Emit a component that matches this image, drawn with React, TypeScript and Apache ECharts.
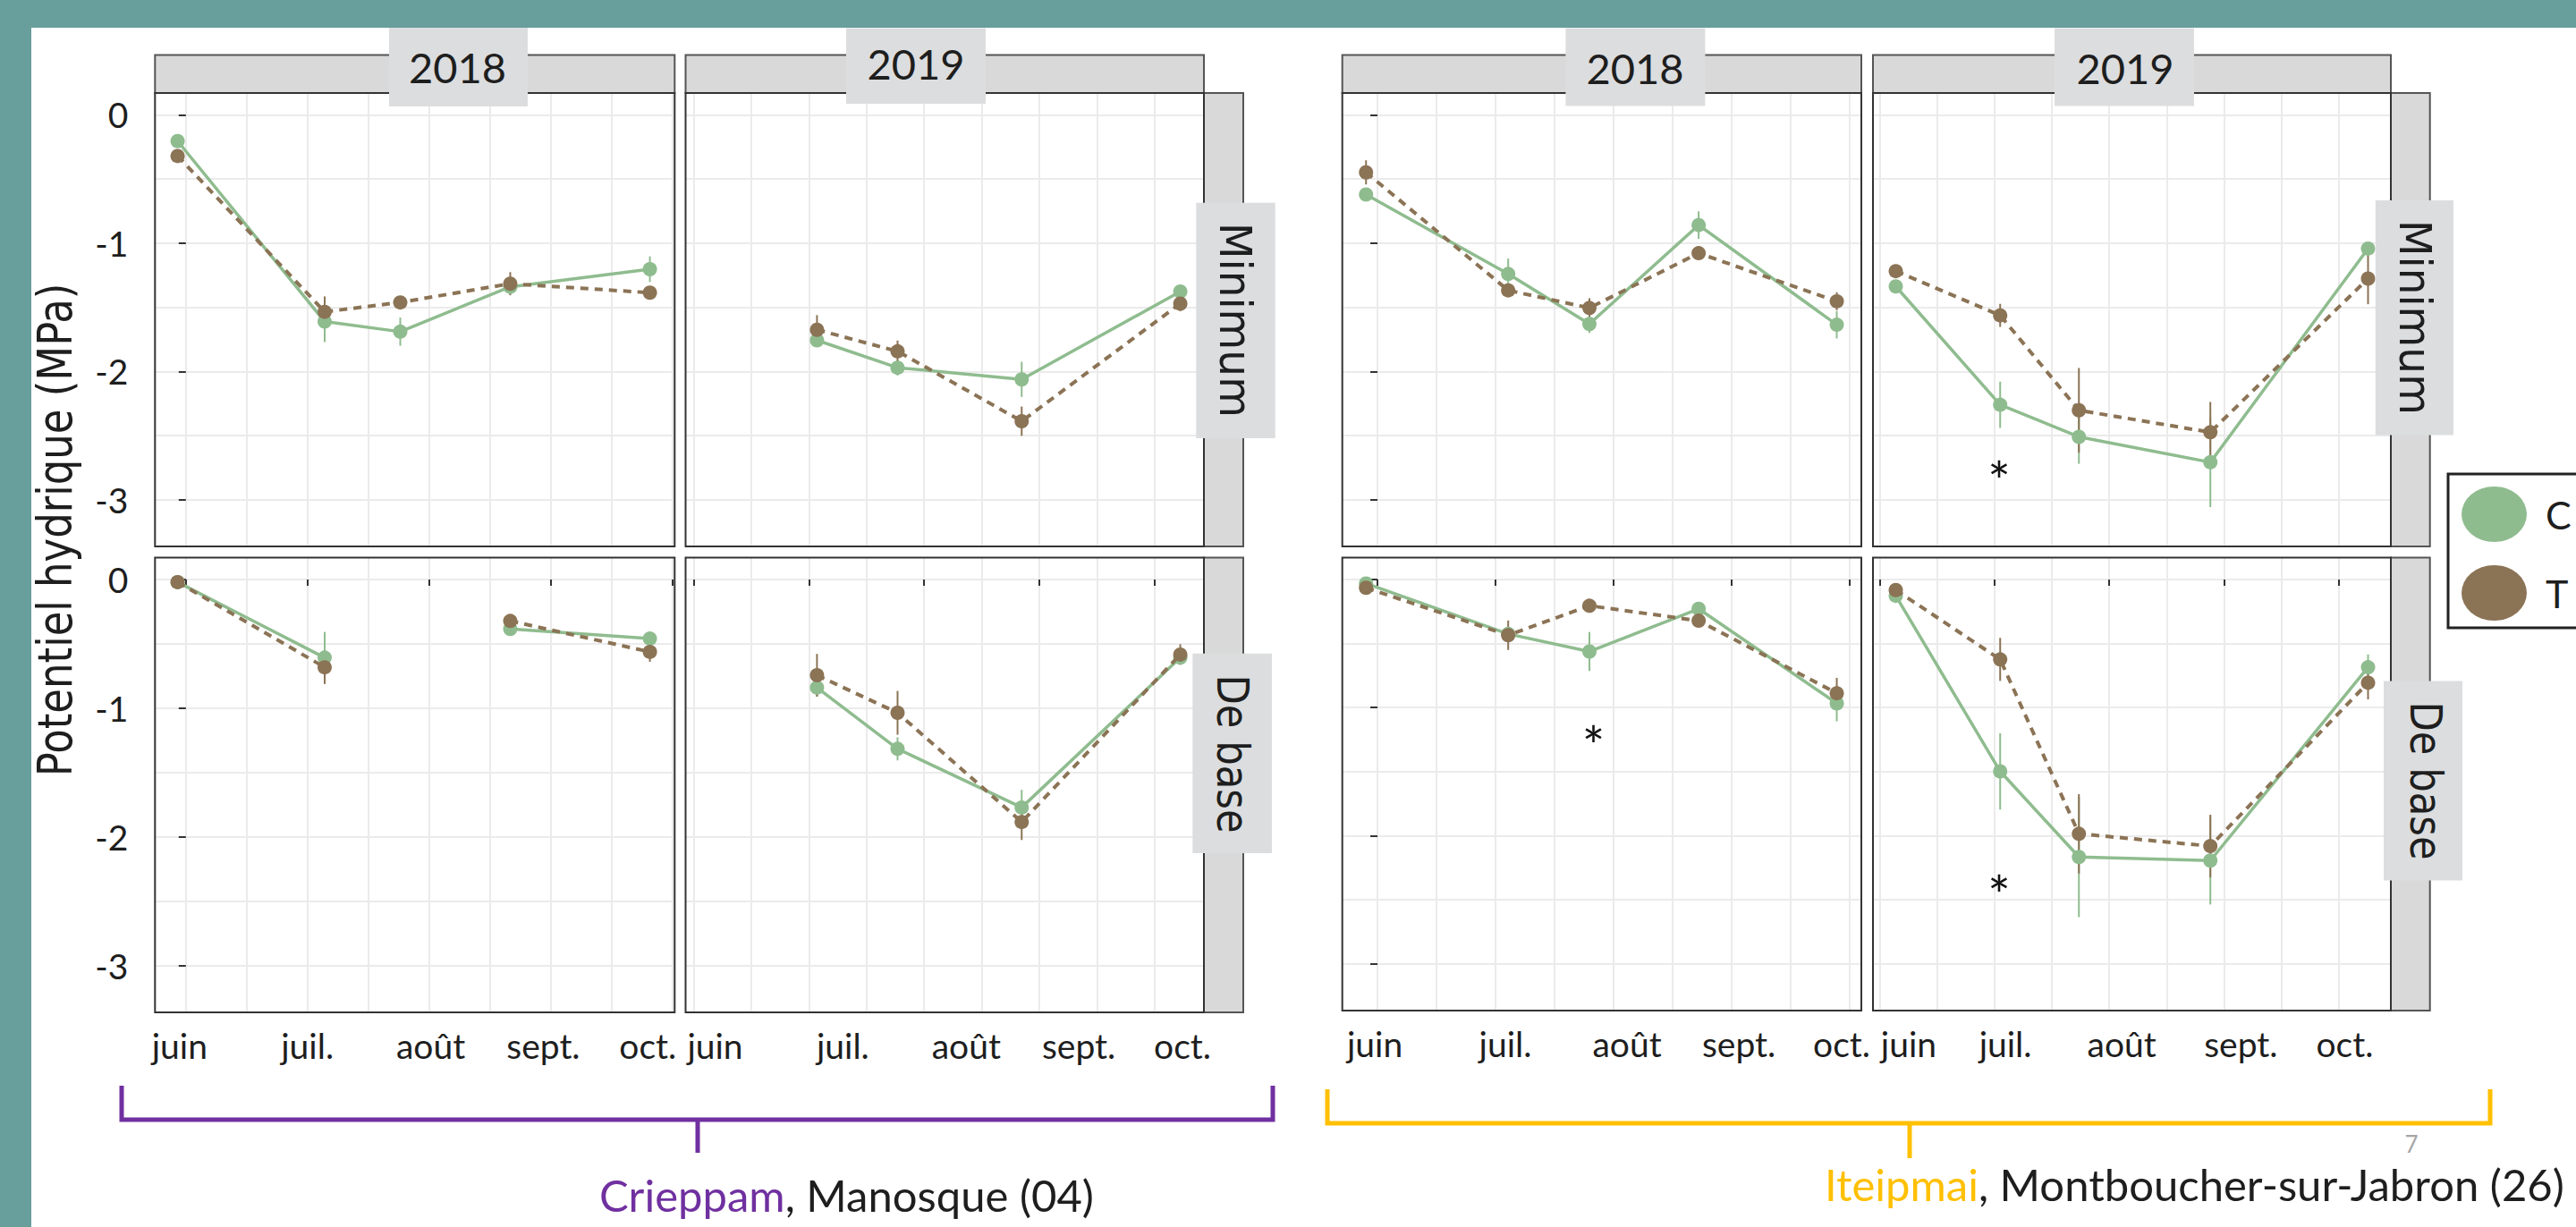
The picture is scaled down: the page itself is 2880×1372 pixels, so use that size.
import React, { useEffect, useRef } from 'react';
import * as echarts from 'echarts';

// ---------------- data ----------------
const monthLabels = ['juin', 'juil.', 'août', 'sept.', 'oct.'];
const monthTicks = [0, 1, 2, 3, 4];
const yTickValues = [-3, -2, -1, 0];
const years = ['2018', '2019', '2018', '2019'];
const rowLabels = ['Minimum', 'De base', 'Minimum', 'De base'];
const siteNames = ['Crieppam', 'Iteipmai'];
const sitePlaces = [', Manosque (04)', ', Montboucher-sur-Jabron (26)'];
const legendNames = ['C', 'T'];
const axisTitle = 'Potentiel hydrique (MPa)';
const pageNumber = '7';
const starText = '*';

// sampling dates, in months after 1 June
const datesCrieppam2018 = [-0.068, 1.142, 1.764, 2.669, 3.818];
const datesCrieppam2019 = [1.07, 1.769, 2.846, 4.222];
const datesIteipmai2018 = [-0.097, 1.107, 1.795, 2.72, 3.89];
const datesIteipmai2019 = [0.137, 1.048, 1.735, 2.882, 4.258];

// Crieppam 2018
const crieppam2018MinC = [-0.204, -1.611, -1.69, -1.34, -1.203];
const crieppam2018MinT = [-0.32, -1.535, -1.462, -1.316, -1.386];
const crieppam2018MinCErr = [0.03, 0.16, 0.11, 0.06, 0.1];
const crieppam2018MinTErr = [0.04, 0.12, 0.05, 0.09, 0.05];
const crieppam2018BaseC = [-0.02, -0.607, null, -0.384, -0.459];
const crieppam2018BaseT = [-0.02, -0.682, null, -0.322, -0.562];
const crieppam2018BaseCErr = [0.02, 0.2, null, 0.05, 0.05];
const crieppam2018BaseTErr = [0.02, 0.13, null, 0.04, 0.077];

// Crieppam 2019
const crieppam2019MinC = [-1.757, -1.971, -2.062, -1.377];
const crieppam2019MinT = [-1.675, -1.843, -2.388, -1.471];
const crieppam2019MinCErr = [0.05, 0.06, 0.137, 0.04];
const crieppam2019MinTErr = [0.114, 0.084, 0.114, 0.06];
const crieppam2019BaseC = [-0.84, -1.316, -1.772, -0.607];
const crieppam2019BaseT = [-0.744, -1.036, -1.885, -0.583];
const crieppam2019BaseCErr = [0.07, 0.09, 0.137, 0.03];
const crieppam2019BaseTErr = [0.166, 0.17, 0.14, 0.08];

// Iteipmai 2018
const iteipmai2018MinC = [-0.621, -1.24, -1.63, -0.859, -1.636];
const iteipmai2018MinT = [-0.448, -1.368, -1.505, -1.078, -1.453];
const iteipmai2018MinCErr = [0.03, 0.12, 0.07, 0.107, 0.107];
const iteipmai2018MinTErr = [0.094, 0.05, 0.076, 0.05, 0.07];
const iteipmai2018BaseC = [-0.031, -0.425, -0.562, -0.229, -0.967];
const iteipmai2018BaseT = [-0.065, -0.435, -0.205, -0.322, -0.888];
const iteipmai2018BaseCErr = [0.03, 0.04, 0.152, 0.04, 0.14];
const iteipmai2018BaseTErr = [0.03, 0.115, 0.05, 0.04, 0.12];

// Iteipmai 2019
const iteipmai2019MinC = [-1.337, -2.26, -2.51, -2.708, -1.042];
const iteipmai2019MinT = [-1.218, -1.563, -2.303, -2.474, -1.276];
const iteipmai2019MinCErr = [0.03, 0.18, 0.21, 0.35, 0.03];
const iteipmai2019MinTErr = [0.03, 0.09, 0.33, 0.236, 0.2];
const iteipmai2019BaseC = [-0.127, -1.498, -2.166, -2.194, -0.685];
const iteipmai2019BaseT = [-0.082, -0.624, -1.985, -2.081, -0.806];
const iteipmai2019BaseCErr = [0.03, 0.298, 0.47, 0.343, 0.1];
const iteipmai2019BaseTErr = [0.03, 0.168, 0.31, 0.245, 0.13];

// significance marks (panel index, x in months, y in MPa)
const starPanels = [5, 6, 7];
const starX = [1.038, 1.83, 1.038];
const starY = [-2.85, -1.292, -2.46];

// ---------------- styles / layout ----------------
const GREEN = '#8FBC8F';
const BROWN = '#8B7355';
const TEXT = '#1e1e1e';
const GRID_COLOR = '#EBEBEB';
const BORDER = '#333333';
const STRIP_FILL = '#D9D9D9';
const STRIP_STROKE = '#555555';
const BOX_FILL = '#DCDDDF';
const TEAL = '#689E9B';
const LATO = 'Lato, "Open Sans", sans-serif';
const DEJAVU = '"DejaVu Sans", Verdana, sans-serif';
const ELLIPSE = 'path://M0,50A50,50,0,1,1,100,50A50,50,0,1,1,0,50Z';

type Rect = [number, number, number, number];
const panelRects: Rect[] = [
  [173.3, 104.1, 581, 507],
  [766.5, 104.1, 579.5, 507],
  [173.3, 623.6, 581, 508.4],
  [766.5, 623.6, 579.5, 508.4],
  [1500.7, 104.1, 580.3, 507],
  [2094, 104.1, 579, 507],
  [1500.7, 623.6, 580.3, 506.4],
  [2094, 623.6, 579, 506.4],
];
const xExtents: [number, number][] = [
  [-0.254, 4.022], [-0.07, 4.427], [-0.254, 4.022], [-0.07, 4.427],
  [-0.298, 4.098], [-0.062, 4.457], [-0.298, 4.098], [-0.062, 4.457],
];
const yExtent: [number, number] = [-3.365, 0.17];
// offsets (px) of the month labels relative to their ticks, bottom panels
const labelShifts: Record<number, number[]> = {
  2: [-7, 0, 2, -8, -27],
  3: [24, 38, 47, 44, 31],
  6: [-3, 11, 15, 8, -9],
  7: [32, 12, 14, 19, 7],
};
const yLabelPanels = [0, 2];
const yTickPanels = [0, 2, 4, 6];

const yearBoxes: Rect[] = [[435, 31, 155, 88], [946, 31.5, 156, 84.5], [1750.4, 31.5, 156, 87], [2297, 31.5, 156, 87]];
const yearCenters = [[511.5, 75], [1024, 71], [1828, 76], [2376, 76]];
const rowBoxes: Rect[] = [[1337.3, 226.7, 88.4, 263.3], [1333.3, 730.7, 88.7, 223.3], [2655.8, 224, 87.2, 262.4], [2665, 761.5, 88, 223]];
const rowCenters = [[1381.5, 358], [1378.3, 843], [2700, 355], [2712, 873]];
const rowScale = [0.96, 0.885, 0.96, 0.885];

interface PanelData {
  dates: number[];
  c: (number | null)[];
  t: (number | null)[];
  ce: (number | null)[];
  te: (number | null)[];
}
const panels: PanelData[] = [
  { dates: datesCrieppam2018, c: crieppam2018MinC, t: crieppam2018MinT, ce: crieppam2018MinCErr, te: crieppam2018MinTErr },
  { dates: datesCrieppam2019, c: crieppam2019MinC, t: crieppam2019MinT, ce: crieppam2019MinCErr, te: crieppam2019MinTErr },
  { dates: datesCrieppam2018, c: crieppam2018BaseC, t: crieppam2018BaseT, ce: crieppam2018BaseCErr, te: crieppam2018BaseTErr },
  { dates: datesCrieppam2019, c: crieppam2019BaseC, t: crieppam2019BaseT, ce: crieppam2019BaseCErr, te: crieppam2019BaseTErr },
  { dates: datesIteipmai2018, c: iteipmai2018MinC, t: iteipmai2018MinT, ce: iteipmai2018MinCErr, te: iteipmai2018MinTErr },
  { dates: datesIteipmai2019, c: iteipmai2019MinC, t: iteipmai2019MinT, ce: iteipmai2019MinCErr, te: iteipmai2019MinTErr },
  { dates: datesIteipmai2018, c: iteipmai2018BaseC, t: iteipmai2018BaseT, ce: iteipmai2018BaseCErr, te: iteipmai2018BaseTErr },
  { dates: datesIteipmai2019, c: iteipmai2019BaseC, t: iteipmai2019BaseT, ce: iteipmai2019BaseCErr, te: iteipmai2019BaseTErr },
];

function isInt(v: number) {
  return Math.abs(v - Math.round(v)) < 1e-6;
}

function buildOption(): any {
  const grid: any[] = [];
  const xAxis: any[] = [];
  const yAxis: any[] = [];
  const series: any[] = [];

  panelRects.forEach((r, p) => {
    grid.push({ left: r[0], top: r[1], width: r[2], height: r[3], show: false, containLabel: false, outerBoundsMode: 'none' });
    const shifts = labelShifts[p];
    const pxPerMonth = r[2] / (xExtents[p][1] - xExtents[p][0]);
    const labelValues = shifts ? monthTicks.map((m, i) => m + shifts[i] / pxPerMonth) : monthTicks;
    xAxis.push({
      type: 'value', gridIndex: p, min: xExtents[p][0], max: xExtents[p][1],
      minInterval: 1, maxInterval: 1,
      axisLine: { show: false },
      axisTick: { show: !!shifts, length: 7, lineStyle: { color: BORDER, width: 2 }, customValues: monthTicks },
      axisLabel: {
        show: !!shifts, customValues: labelValues, margin: 17, fontSize: 39, lineHeight: 39,
        fontFamily: LATO, color: TEXT, showMinLabel: true, showMaxLabel: true, hideOverlap: false,
        formatter: (v: number) => {
          const i = Math.round(v);
          if (i < 0 || i >= monthLabels.length || Math.abs(v - i) > 0.45) return '';
          return monthLabels[i];
        },
      },
      splitLine: { show: true, lineStyle: { color: GRID_COLOR, width: 2 } },
      minorTick: { show: false, splitNumber: 2 },
      minorSplitLine: { show: true, lineStyle: { color: GRID_COLOR, width: 2 } },
    });
    yAxis.push({
      type: 'value', gridIndex: p, min: yExtent[0], max: yExtent[1],
      minInterval: 1, maxInterval: 1,
      axisLine: { show: false },
      axisTick: { show: yTickPanels.includes(p), length: 8, lineStyle: { color: BORDER, width: 2 }, customValues: yTickValues },
      axisLabel: {
        show: yLabelPanels.includes(p), customValues: yTickValues, margin: 30, fontSize: 39,
        fontFamily: LATO, color: TEXT, showMinLabel: true, showMaxLabel: true,
        formatter: (v: number) => (isInt(v) ? String(Math.round(v) === 0 ? 0 : Math.round(v)) : ''),
      },
      splitLine: { show: true, lineStyle: { color: GRID_COLOR, width: 2 } },
      minorTick: { show: false, splitNumber: 2 },
      minorSplitLine: { show: true, lineStyle: { color: GRID_COLOR, width: 2 } },
    });

    const pd = panels[p];
    const errData = (vals: (number | null)[], errs: (number | null)[]) =>
      pd.dates
        .map((d, i) => (vals[i] == null || errs[i] == null ? null : [d, (vals[i] as number) - (errs[i] as number), (vals[i] as number) + (errs[i] as number)]))
        .filter((x) => x != null);
    const errSeries = (name: string, vals: (number | null)[], errs: (number | null)[], color: string) => ({
      type: 'custom', name, xAxisIndex: p, yAxisIndex: p, silent: true, z: 2,
      encode: { x: 0, y: [1, 2] },
      data: errData(vals, errs),
      renderItem: (_params: any, api: any) => {
        const a = api.coord([api.value(0), api.value(1)]);
        const b = api.coord([api.value(0), api.value(2)]);
        return { type: 'line', shape: { x1: a[0], y1: a[1], x2: b[0], y2: b[1] }, style: { stroke: color, lineWidth: 2 } };
      },
    });
    series.push(errSeries('errC', pd.c, pd.ce, GREEN));
    series.push(errSeries('errT', pd.t, pd.te, BROWN));
    series.push({
      type: 'line', name: legendNames[0], xAxisIndex: p, yAxisIndex: p, silent: true, z: 3,
      data: pd.dates.map((d, i) => [d, pd.c[i] == null ? '-' : pd.c[i]]),
      symbol: 'circle', symbolSize: 16, showSymbol: true, connectNulls: false,
      itemStyle: { color: GREEN }, lineStyle: { color: GREEN, width: 3.5 },
      emphasis: { disabled: true },
    });
    series.push({
      type: 'line', name: legendNames[1], xAxisIndex: p, yAxisIndex: p, silent: true, z: 4,
      data: pd.dates.map((d, i) => [d, pd.t[i] == null ? '-' : pd.t[i]]),
      symbol: 'circle', symbolSize: 16, showSymbol: true, connectNulls: false,
      itemStyle: { color: BROWN }, lineStyle: { color: BROWN, width: 4, type: [9, 7] },
      emphasis: { disabled: true },
    });
  });

  starPanels.forEach((p, k) => {
    series.push({
      type: 'scatter', name: 'sig', xAxisIndex: p, yAxisIndex: p, silent: true, z: 5,
      data: [[starX[k], starY[k]]], symbol: 'circle', symbolSize: 1,
      itemStyle: { color: 'rgba(0,0,0,0)' },
      label: { show: true, formatter: starText, position: 'inside', fontSize: 60, fontFamily: LATO, color: '#111', opacity: 1 },
      emphasis: { disabled: true },
    });
  });

  const g: any[] = [];
  // strips
  [0, 1, 4, 5].forEach((p) => {
    const r = panelRects[p];
    g.push({ type: 'rect', z: 100, shape: { x: r[0], y: 61.5, width: r[2], height: r[1] - 61.5 }, style: { fill: STRIP_FILL, stroke: STRIP_STROKE, lineWidth: 2 } });
  });
  [1, 3, 5, 7].forEach((p) => {
    const r = panelRects[p];
    const right = p < 4 ? 1390 : 2716.7;
    g.push({ type: 'rect', z: 100, shape: { x: r[0] + r[2], y: r[1], width: right - (r[0] + r[2]), height: r[3] }, style: { fill: STRIP_FILL, stroke: STRIP_STROKE, lineWidth: 2 } });
  });
  // panel borders
  panelRects.forEach((r) => {
    g.push({ type: 'rect', z: 101, shape: { x: r[0], y: r[1], width: r[2], height: r[3] }, style: { fill: 'none', stroke: BORDER, lineWidth: 2 } });
  });
  // label boxes
  yearBoxes.concat(rowBoxes).forEach((b) => {
    g.push({ type: 'rect', z: 102, shape: { x: b[0], y: b[1], width: b[2], height: b[3] }, style: { fill: BOX_FILL } });
  });
  years.forEach((t, i) => {
    g.push({ type: 'text', z: 103, x: yearCenters[i][0], y: yearCenters[i][1], style: { text: t, fontSize: 47, fontFamily: LATO, fill: TEXT, textAlign: 'center', textVerticalAlign: 'middle' } });
  });
  rowLabels.forEach((t, i) => {
    g.push({ type: 'text', z: 103, x: rowCenters[i][0], y: rowCenters[i][1], rotation: -Math.PI / 2, scaleX: rowScale[i], style: { text: t, fontSize: 49, fontFamily: DEJAVU, fill: TEXT, textAlign: 'center', textVerticalAlign: 'middle' } });
  });
  // y axis title
  g.push({ type: 'text', z: 103, x: 61.5, y: 592.5, rotation: Math.PI / 2, scaleX: 0.833, style: { text: axisTitle, fontSize: 54, fontFamily: DEJAVU, fill: TEXT, textAlign: 'center', textVerticalAlign: 'middle' } });
  // teal frame
  g.push({ type: 'rect', z: 110, shape: { x: 0, y: 0, width: 2880, height: 31 }, style: { fill: TEAL } });
  g.push({ type: 'rect', z: 110, shape: { x: 0, y: 0, width: 35, height: 1372 }, style: { fill: TEAL } });
  // brackets
  g.push({ type: 'polyline', z: 100, shape: { points: [[136, 1214], [136, 1252], [1423, 1252], [1423, 1214]] }, style: { stroke: '#7030A0', lineWidth: 5, fill: 'none' } });
  g.push({ type: 'line', z: 100, shape: { x1: 780, y1: 1252, x2: 780, y2: 1289 }, style: { stroke: '#7030A0', lineWidth: 5 } });
  g.push({ type: 'polyline', z: 100, shape: { points: [[1484, 1218], [1484, 1256], [2784, 1256], [2784, 1218]] }, style: { stroke: '#FFC000', lineWidth: 5, fill: 'none' } });
  g.push({ type: 'line', z: 100, shape: { x1: 2135, y1: 1256, x2: 2135, y2: 1295 }, style: { stroke: '#FFC000', lineWidth: 5 } });
  // site captions
  g.push({ type: 'text', z: 103, x: 670, y: 1336, style: { text: `{p|${siteNames[0]}}{b|${sitePlaces[0]}}`, rich: { p: { fill: '#7030A0', fontSize: 49, fontFamily: LATO, lineHeight: 36 }, b: { fill: TEXT, fontSize: 49, fontFamily: LATO, lineHeight: 36 } }, textAlign: 'left', textVerticalAlign: 'middle' } });
  g.push({ type: 'text', z: 103, x: 2040, y: 1324, style: { text: `{p|${siteNames[1]}}{b|${sitePlaces[1]}}`, rich: { p: { fill: '#FFC000', fontSize: 49, fontFamily: LATO, lineHeight: 36 }, b: { fill: TEXT, fontSize: 49, fontFamily: LATO, lineHeight: 36 } }, textAlign: 'left', textVerticalAlign: 'middle' } });
  g.push({ type: 'text', z: 103, x: 2696, y: 1279, style: { text: pageNumber, fontSize: 26, lineHeight: 20, fontFamily: LATO, fill: '#A6A6A6', textAlign: 'center', textVerticalAlign: 'middle' } });

  return {
    animation: false,
    backgroundColor: '#ffffff',
    grid, xAxis, yAxis, series,
    legend: {
      data: [
        { name: legendNames[0], icon: ELLIPSE, itemStyle: { color: GREEN, borderWidth: 0 } },
        { name: legendNames[1], icon: ELLIPSE, itemStyle: { color: BROWN, borderWidth: 0 } },
      ],
      orient: 'vertical', left: 2737, top: 530,
      padding: [14, 90, 8, 15], itemWidth: 73, itemHeight: 62, itemGap: 26,
      symbolKeepAspect: false,
      borderColor: '#222', borderWidth: 3, backgroundColor: '#ffffff',
      textStyle: { fontSize: 43, fontFamily: LATO, color: TEXT, padding: [0, 0, 0, 16] },
      selectedMode: false, z: 50,
    },
    graphic: { elements: g },
  };
}

export default function App() {
  const ref = useRef<HTMLDivElement>(null);
  useEffect(() => {
    const chart = echarts.init(ref.current as HTMLDivElement, undefined, { renderer: 'svg', width: 2880, height: 1372 });
    chart.setOption(buildOption());
    return () => chart.dispose();
  }, []);
  return <div ref={ref} style={{ position: 'absolute', left: 0, top: 0, width: 2880, height: 1372, background: '#fff' }} />;
}
